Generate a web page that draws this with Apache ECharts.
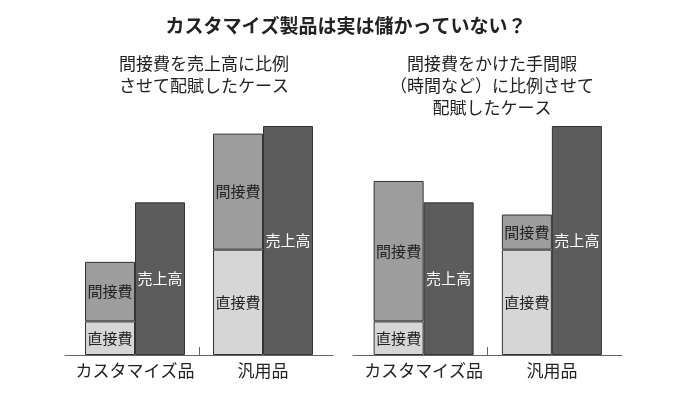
<!DOCTYPE html>
<html>
<head>
<meta charset="utf-8">
<script src="https://cdn.jsdelivr.net/npm/echarts@6/dist/echarts.min.js"></script>
<style>html,body{margin:0;padding:0;background:#fff}#c{width:700px;height:403px}</style>
</head>
<body>
<div id="c"></div>
<script>
var categories = ['カスタマイズ品', '汎用品'];
var directCost = [22, 69];
var indirectBySales = [39, 76];
var indirectByTime = [92, 23];
var sales = [100, 150];
var mainTitle = 'カスタマイズ製品は実は儲かっていない？';
var leftTitle = '間接費を売上高に比例\nさせて配賦したケース';
var rightTitle = '間接費をかけた手間暇\n（時間など）に比例させて\n配賦したケース';
var seriesNames = ['直接費', '間接費', '売上高'];

var FONT = '"Noto Sans CJK JP", "Noto Sans", sans-serif';
var chart = echarts.init(document.getElementById('c'), null, {renderer: 'canvas'});

function catAxis(gi) {
  return {
    type: 'category', gridIndex: gi, data: categories, boundaryGap: true,
    axisLine: {show: false}, axisTick: {show: false},
    axisLabel: {interval: 0, hideOverlap: false, margin: 7, fontSize: 17, color: '#222', fontFamily: FONT}
  };
}
function lineAxis(gi) {
  return {
    type: 'value', gridIndex: gi, min: 0, max: 1,
    splitLine: {show: false},
    axisLine: {show: true, lineStyle: {color: '#666', width: 1}},
    axisTick: {show: true, inside: true, length: 8, customValues: [0.5], lineStyle: {color: '#666'}},
    axisLabel: {show: false}
  };
}
function yAxisFor(gi) {
  return {type: 'value', gridIndex: gi, min: 0, max: 150, show: false, splitLine: {show: false}};
}
function barSeries(gi, name, data, color, labelColor, stack) {
  var s = {
    type: 'bar', name: name, xAxisIndex: gi, yAxisIndex: gi,
    data: data, barWidth: 50, barGap: '0%',
    itemStyle: {color: color, borderColor: '#333', borderWidth: 1},
    label: {show: true, position: 'inside', formatter: name, fontSize: 15, color: labelColor, fontFamily: FONT},
    silent: true, animation: false
  };
  if (stack) s.stack = stack;
  return s;
}

var option = {
  animation: false,
  backgroundColor: '#fff',
  textStyle: {fontFamily: FONT},
  title: [
    {text: mainTitle, left: 341, top: 11, textAlign: 'center', textStyle: {fontSize: 19, fontWeight: 'bold', color: '#222', fontFamily: FONT}},
    {text: leftTitle, left: 199, top: 48, textAlign: 'center', textStyle: {fontSize: 17, fontWeight: 'normal', color: '#222', lineHeight: 22, fontFamily: FONT}},
    {text: rightTitle, left: 487, top: 48, textAlign: 'center', textStyle: {fontSize: 17, fontWeight: 'normal', color: '#222', lineHeight: 22, fontFamily: FONT}}
  ],
  grid: [
    {left: 71, width: 256, top: 126, bottom: 48},
    {left: 359.5, width: 256.5, top: 126, bottom: 48},
    {left: 65, width: 268, top: 126, bottom: 48},
    {left: 353, width: 269, top: 126, bottom: 48}
  ],
  xAxis: [catAxis(0), catAxis(1), lineAxis(2), lineAxis(3)],
  yAxis: [yAxisFor(0), yAxisFor(1), yAxisFor(2), yAxisFor(3)],
  series: [
    barSeries(0, seriesNames[0], directCost, '#d6d6d6', '#222', 'cost'),
    barSeries(0, seriesNames[1], indirectBySales, '#9d9d9d', '#222', 'cost'),
    barSeries(0, seriesNames[2], sales, '#5c5c5c', '#fff'),
    barSeries(1, seriesNames[0], directCost, '#d6d6d6', '#222', 'cost2'),
    barSeries(1, seriesNames[1], indirectByTime, '#9d9d9d', '#222', 'cost2'),
    barSeries(1, seriesNames[2], sales, '#5c5c5c', '#fff')
  ]
};
chart.setOption(option);
</script>
</body>
</html>
